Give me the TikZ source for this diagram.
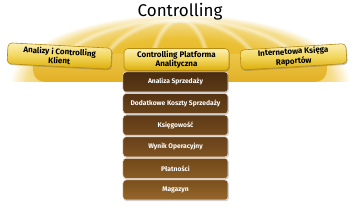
\documentclass[tikz,border=0pt]{standalone}
\usepackage{fontspec}
\setmainfont{Fira Sans}
\usetikzlibrary{shadows}
\definecolor{dg1}{HTML}{E2AA10}
\definecolor{dg2}{HTML}{EAC034}
\definecolor{dg3}{HTML}{F5DE90}
\definecolor{yt}{HTML}{FBF0B4}
\definecolor{ym}{HTML}{F2D65C}
\definecolor{yb}{HTML}{DCAC08}
\definecolor{ydraw}{HTML}{B88A10}
\definecolor{bandt}{HTML}{EDC64A}
\definecolor{bandb}{HTML}{E2B024}
\definecolor{bt1}{HTML}{4A2C10}\definecolor{bb1}{HTML}{5E3B17}
\definecolor{bt2}{HTML}{553314}\definecolor{bb2}{HTML}{68431A}
\definecolor{bt3}{HTML}{5E3A16}\definecolor{bb3}{HTML}{724A1D}
\definecolor{bt4}{HTML}{68411A}\definecolor{bb4}{HTML}{7E5322}
\definecolor{bt5}{HTML}{714819}\definecolor{bb5}{HTML}{8A5C25}
\definecolor{bt6}{HTML}{7A4F1C}\definecolor{bb6}{HTML}{96672A}
\pgfdeclareradialshading{domeshade}{\pgfpoint{0bp}{0bp}}{color(0bp)=(dg1); color(16bp)=(dg2); color(22.5bp)=(dg3); color(25bp)=(white); color(50bp)=(white)}
\tikzset{
  ybox/.style={rounded corners=4pt, draw=ydraw, line width=.6pt,
    top color=yt, bottom color=yb, middle color=ym,
    inner sep=0pt, align=center, text=black,
    font=\fontsize{8}{9.2}\selectfont\bfseries,
    drop shadow={shadow xshift=.8pt, shadow yshift=-1.2pt, opacity=.35, fill=black!60}},
  bbox/.style={rounded corners=3pt, draw=white!75!brown, line width=.5pt,
    minimum width=105pt, minimum height=20pt, inner sep=0pt, text=white,
    font=\fontsize{6.7}{8}\selectfont\bfseries,
    drop shadow={shadow xshift=.8pt, shadow yshift=-1.2pt, opacity=.3, fill=black!60}},
  rib/.style={white, line width=6pt, opacity=.2},
  ribcore/.style={white, line width=2.5pt, opacity=.3}
}
\begin{document}
\begin{tikzpicture}[x=1pt,y=1pt]
\useasboundingbox (0,0) rectangle (360,214);
\fill[white] (0,0) rectangle (360,214);
% dome
\begin{scope}
  \clip (0,132) rectangle (360,214);
  \shade[shading=domeshade] (180,132) ellipse [x radius=170, y radius=68];
  \foreach \a in {30,82,128}{
    \draw[rib] (180+\a,132) arc[start angle=0,end angle=180,x radius=\a,y radius=62];
    \draw[ribcore] (180+\a,132) arc[start angle=0,end angle=180,x radius=\a,y radius=62];
  }
\end{scope}
\shade[top color=bandt, bottom color=bandb, rounded corners=12pt] (33,160) -- (33,132) -- (327,132) -- (327,160) -- cycle;
% title
\node[anchor=base, font=\fontsize{17}{17}\selectfont] (title) at (180,197) {Controlling};
% brown boxes
\node[bbox, top color=bt1, bottom color=bb1] (b1) at (175.5,132) {Analiza Sprzedaży};
\node[bbox, top color=bt2, bottom color=bb2] (b2) at (175.5,110.4) {Dodatkowe Koszty Sprzedaży};
\node[bbox, top color=bt3, bottom color=bb3] (b3) at (175.5,88.8) {Księgowość};
\node[bbox, top color=bt4, bottom color=bb4] (b4) at (175.5,67.2) {Wynik Operacyjny};
\node[bbox, top color=bt5, bottom color=bb5] (b5) at (175.5,45.6) {Płatności};
\node[bbox, top color=bt6, bottom color=bb6] (b6) at (175.5,24) {Magazyn};
% yellow boxes
\node[ybox, minimum width=104pt, minimum height=21pt, rotate=-3] (left) at (59.5,158) {Analizy i Controlling\\Klient};
\node[ybox, minimum width=105pt, minimum height=22pt] (mid) at (176.5,154.5) {Controlling Platforma\\Analityczna};
\node[ybox, minimum width=106pt, minimum height=20pt, rotate=3.5, font=\fontsize{8}{9.8}\selectfont\bfseries] (right) at (293.5,157.2) {Internetowa Księga\\Raportów};
\end{tikzpicture}
\end{document}
